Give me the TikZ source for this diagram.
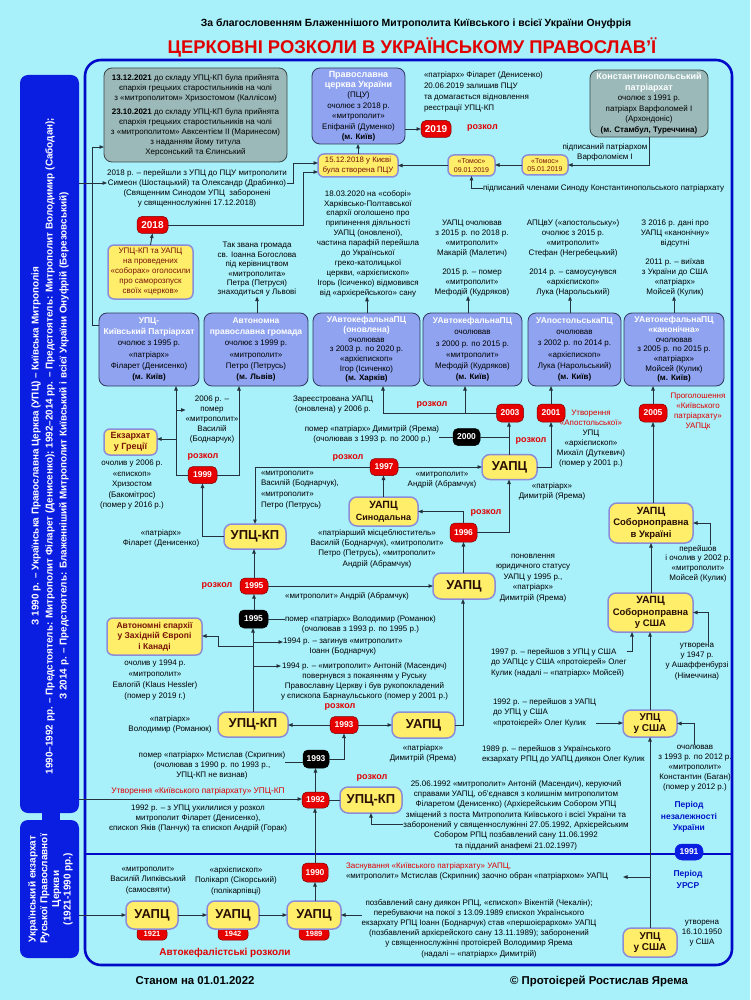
\documentclass[tikz,border=0pt]{standalone}
\usepackage{fontspec}
\setmainfont{Liberation Sans}
\usetikzlibrary{arrows.meta}
\definecolor{bgc}{RGB}{168,240,250}
\definecolor{frameb}{RGB}{0,10,200}
\definecolor{lblue}{RGB}{10,30,225}
\definecolor{peri}{RGB}{143,163,240}
\definecolor{perid}{RGB}{50,55,95}
\definecolor{greyf}{RGB}{155,185,185}
\definecolor{greyd}{RGB}{60,70,70}
\definecolor{yel}{RGB}{255,238,105}
\definecolor{yeld}{RGB}{140,140,215}
\definecolor{rbad}{RGB}{230,0,0}
\definecolor{rtxt}{RGB}{225,0,0}
\definecolor{dred}{RGB}{120,20,10}
\definecolor{ytx}{RGB}{40,15,5}
\definecolor{conn}{RGB}{35,50,60}
\definecolor{pblue}{RGB}{0,20,200}
\newcommand\myfs[2]{\fontsize{#1}{#2}\selectfont}
\newcommand\whb[1]{{\color{white}\bfseries\fontsize{8.5}{10}\selectfont #1}}
\newcommand\rdt[1]{{\color{rtxt}#1}}
\tikzset{
 every node/.style={inner sep=0pt, outer sep=0pt},
 txt/.style={align=center, font=\myfs{8}{10}},
 bbox/.style={draw=perid, fill=peri, line width=0.8pt, rounded corners=8pt, align=center, font=\myfs{8}{11.2}},
 gbox/.style={draw=greyd, fill=greyf, line width=0.8pt, rounded corners=8pt, align=center, font=\myfs{8}{10}},
 ybig/.style={draw=yeld, fill=yel, line width=1.5pt, rounded corners=8pt, align=center, text=ytx, font=\bfseries\myfs{13}{14}},
 ysmall/.style={draw=yeld, fill=yel, line width=1.5pt, rounded corners=6pt, align=center, text=dred, font=\bfseries\myfs{8.5}{10}},
 rbadge/.style={fill=rbad, draw=red!50!black, line width=0.5pt, rounded corners=5pt, text=white, font=\bfseries\myfs{8.5}{9}, minimum width=28pt, minimum height=17pt},
 kbadge/.style={rbadge, fill=black, draw=black},
 rozk/.style={text=rtxt, font=\bfseries\myfs{9}{10}},
 arr/.style={draw=conn, line width=0.9pt, -{Triangle[length=4.5pt,width=3.5pt]}},
 ln/.style={draw=conn, line width=0.9pt},
}
\begin{document}
\begin{tikzpicture}[x=1pt,y=-1pt]
\useasboundingbox (0,0) rectangle (750,1000);
\fill[bgc] (0,0) rectangle (750,1000);

% titles
\node[font=\bfseries\myfs{10.4}{12}] (h1) at (416,24) {За благословенням Блаженнішого Митрополита Київського і всієї України Онуфрія};
\node[font=\bfseries\myfs{18.4}{20}, text=rtxt] (h2) at (412,47) {ЦЕРКОВНІ РОЗКОЛИ В УКРАЇНСЬКОМУ ПРАВОСЛАВ’Ї};

% frame
\draw[frameb, line width=2.6pt, rounded corners=16pt] (85,60) rectangle (732,965);
\draw[frameb, line width=1.2pt] (86,854) -- (731,854);

% left boxes
\fill[lblue] (42,806) rectangle (60,824);
\node[fill=lblue, rounded corners=8pt, minimum width=59pt, minimum height=738pt] (LB1) at (49.5,444) {};
\node[rotate=90, text=white, align=center, font=\bfseries\myfs{9.9}{14}] (LB1t) at (50,446) {З 1990 р. – Українська Православна Церква (УПЦ) – Київська Митрополія\\1990–1992 рр. – Предстоятель: Митрополит Філарет (Денисенко); 1992–2014 рр. – Предстоятель: Митрополит Володимир (Сабодан);\\З 2014 р. – Предстоятель: Блаженніший Митрополит Київський і всієї України Онуфрій (Березовський)};
\node[fill=lblue, rounded corners=8pt, minimum width=59pt, minimum height=138pt] (LB2) at (49.5,889) {};
\node[rotate=90, text=white, align=center, font=\bfseries\myfs{10}{11.7}] (LB2t) at (50.5,889) {Український екзархат\\Руської Православної\\Церкви\\(1921-1990 рр.)};

% ---------- top row
\node[gbox, minimum width=183pt, minimum height=94pt] (G1) at (195.5,115) {\textbf{13.12.2021} до складу УПЦ-КП була прийнята\\єпархія грецьких старостильників на чолі\\з «митрополитом» Хризостомом (Каллісом)\\[4pt]\textbf{23.10.2021} до складу УПЦ-КП була прийнята\\єпархія грецьких старостильників на чолі\\з «митрополитом» Авксентієм II (Маринесом)\\з наданням йому титула\\Херсонський та Єлинський};
\node[bbox, minimum width=93pt, minimum height=76pt, font=\myfs{8}{10.4}] (PCU) at (358.5,106) {{\color{white}\bfseries\fontsize{9}{10}\selectfont Православна}\\{\color{white}\bfseries\fontsize{9}{10}\selectfont церква України}\\(ПЦУ)\\очолює з 2018 р.\\«митрополит»\\Епіфаній (Думенко)\\\textbf{(м. Київ)}};
\node[gbox, minimum width=118pt, minimum height=67pt, font=\myfs{8}{10.5}] (Konst) at (649,103.5) {{\color{white}\bfseries\fontsize{9}{10}\selectfont Константинопольський}\\{\color{white}\bfseries\fontsize{9}{10}\selectfont патріархат}\\очолює з 1991 р.\\патріарх Варфоломей I\\(Архондоніс)\\\textbf{(м. Стамбул, Туреччина)}};
\node[txt, align=left, anchor=west, font=\myfs{8}{11}] (tFil) at (424,91.5) {«патріарх» Філарет (Денисенко)\\20.06.2019 залишив ПЦУ\\та домагається відновлення\\реєстрації УПЦ-КП};
\node[rbadge, minimum width=30pt, minimum height=17pt, font=\bfseries\myfs{10}{10}] (b2019) at (436,129) {2019};
\node[rozk, anchor=west] (r2019) at (467,128) {розкол};
\node[txt] (tKonst) at (605,152) {підписаний патріархом\\Варфоломієм I};
\node[ysmall, minimum width=46pt, minimum height=20pt, font=\myfs{7}{8.5}] (T05) at (545,165) {«Томос»\\05.01.2019};
\node[ysmall, minimum width=47pt, minimum height=21pt, font=\myfs{7}{8.5}] (T09) at (471.5,165.5) {«Томос»\\09.01.2019};
\node[ysmall, minimum width=80pt, minimum height=23pt, font=\myfs{7.8}{9.5}] (P1512) at (358,165.5) {15.12.2018 у Києві\\була створена ПЦУ};
\node[txt, anchor=west] (tSynK) at (483,188) {підписаний членами Синоду Константинопольського патріархату};
\node[txt] (t2018) at (197,188) {2018 р. – перейшли з УПЦ до ПЦУ митрополити\\Симеон (Шостацький) та Олександр (Драбинко)\\(Священним Синодом УПЦ\ \ заборонені\\у священнослужінні 17.12.2018)};
\node[rbadge, minimum width=31pt, minimum height=17pt, font=\bfseries\myfs{10}{10}] (Y2018) at (152.5,225) {2018};
\node[ysmall, minimum width=85pt, minimum height=54pt, font=\myfs{8}{10}] (Ysob) at (150.5,272) {УПЦ-КП та УАПЦ\\на проведених\\«соборах» оголосили\\про саморозпуск\\своїх «церков»};

% texts above blue row
\node[txt, font=\myfs{8}{9.4}] (tLviv) at (257,269.5) {Так звана громада\\св. Іоанна Богослова\\під керівництвом\\«митрополита»\\Петра (Петруся)\\знаходиться у Львові};
\node[txt, font=\myfs{8}{9.9}] (tKh) at (368,243.5) {18.03.2020 на «соборі»\\Харківсько-Полтавської\\єпархії оголошено про\\припинення діяльності\\УАПЦ (оновленої),\\частина парафій перейшла\\до Української\\греко-католицької\\церкви, «архієпископ»\\Ігорь (Ісиченко) відмовився\\від «архієрейського» сану};
\node[txt] (tMak) at (472,258) {УАПЦ очолював\\з 2015 р. по 2018 р.\\«митрополит»\\Макарій (Малетич)\\[9pt]2015 р. – помер\\«митрополит»\\Мефодій (Кудряков)};
\node[txt] (tStef) at (573,258) {АПЦвУ («апостольську»)\\очолює з 2015 р.\\«митрополит»\\Стефан (Негребецький)\\[9pt]2014 р. – самоусунувся\\«архієпископ»\\Лука (Нарольський)};
\node[txt] (tKan) at (675,258) {З 2016 р. дані про\\УАПЦ «канонічну»\\відсутні\\[9pt]2011 р. – виїхав\\з України до США\\«патріарх»\\Мойсей (Кулик)};

% blue row
\node[bbox, minimum width=100pt, minimum height=73pt] (B1) at (149,349.5) {\whb{УПЦ-}\\\whb{Київський Патріархат}\\очолює з 1995 р.\\«патріарх»\\Філарет (Денисенко)\\\textbf{(м. Київ)}};
\node[bbox, minimum width=104pt, minimum height=73pt] (B2) at (256,349.5) {\whb{Автономна}\\\whb{православна громада}\\очолює з 1999 р.\\«митрополит»\\Петро (Петрусь)\\\textbf{(м. Львів)}};
\node[bbox, minimum width=107pt, minimum height=73pt, font=\myfs{8}{9.7}] (B3) at (366.5,349.5) {\whb{УАвтокефальнаПЦ}\\\whb{(оновлена)}\\очолював\\з 2003 р. по 2020 р.\\«архієпископ»\\Ігор (Ісиченко)\\\textbf{(м. Харків)}};
\node[bbox, minimum width=99pt, minimum height=73pt] (B4) at (472.5,349.5) {\whb{УАвтокефальнаПЦ}\\очолював\\з 2000 р. по 2015 р.\\«митрополит»\\Мефодій (Кудряков)\\\textbf{(м. Київ)}};
\node[bbox, minimum width=93pt, minimum height=73pt] (B5) at (574.5,349.5) {\whb{УАпостольськаПЦ}\\очолював\\з 2002 р. по 2014 р.\\«архієпископ»\\Лука (Нарольський)\\\textbf{(м. Київ)}};
\node[bbox, minimum width=100pt, minimum height=73pt, font=\myfs{8}{9.7}] (B6) at (674,349.5) {\whb{УАвтокефальнаПЦ}\\\whb{«канонічна»}\\очолював\\з 2005 р. по 2015 р.\\«патріарх»\\Мойсей (Кулик)\\\textbf{(м. Київ)}};

% ---------- middle
\node[rbadge, minimum width=27pt, minimum height=18pt] (b2003) at (510,413) {2003};
\node[rbadge, minimum width=28pt, minimum height=18pt] (b2001) at (551,413) {2001};
\node[rbadge, minimum width=28pt, minimum height=18pt] (b2005) at (653,413) {2005};
\node[rozk] (r2003) at (432,405) {розкол};
\node[txt] (tZar) at (333,405) {Зареєстрована УАПЦ\\(оновлена) у 2006 р.};
\node[kbadge, minimum width=27pt, minimum height=17pt] (b2000) at (466.5,437) {2000};
\node[txt] (t2000) at (372,434.5) {помер «патріарх» Димитрій (Ярема)\\(очолював з 1993 р. по 2000 р.)};
\node[txt] (tApost) at (591,439) {\rdt{Утворення}\\\rdt{«Апостольської»}\\УПЦ\\«архієпископ»\\Михаїл (Дуткевич)\\(помер у 2001 р.)};
\node[rozk] (r2001) at (531,441) {розкол};
\node[txt, text=rtxt] (tProg) at (698,411.5) {Проголошення\\«Київського\\патріархату»\\УАПЦк};
\node[ybig, minimum width=55pt, minimum height=25pt] (U2) at (509.5,467) {УАПЦ};
\node[rbadge] (b1997) at (384,467) {1997};
\node[rozk] (r1997) at (348,458) {розкол};
\node[rbadge, minimum width=29pt] (b1999) at (202.5,475) {1999};
\node[rozk] (r1999) at (203,457) {розкол};
\node[txt, font=\myfs{8}{9.8}] (t2006) at (212,419.5) {2006 р. –\\помер\\«митрополит»\\Василій\\(Боднарчук)};
\node[ysmall, minimum width=53pt, minimum height=26pt, font=\bfseries\myfs{9}{10.5}] (Ekz) at (130.5,442) {Екзархат\\у Греції};
\node[txt, font=\myfs{8}{10.5}] (tEkz) at (132,485) {очолив у 2006 р.\\«єпископ»\\Хризостом\\(Бакомітрос)\\(помер у 2016 р.)};
\node[ybig, minimum width=62pt, minimum height=25pt] (UK1) at (255,536.5) {УПЦ-КП};
\node[txt] (tFil2) at (161,538) {«патріарх»\\Філарет (Денисенко)};
\node[txt, align=left, anchor=west, font=\myfs{8}{10.7}] (tVas) at (261,490) {«митрополит»\\Василій (Боднарчук),\\«митрополит»\\Петро (Петрусь)};
\node[txt] (tAndr1) at (442,480) {«митрополит»\\Андрій (Абрамчук)};
\node[txt] (tDym1) at (552,491.5) {«патріарх»\\Димитрій (Ярема)};
\node[ybig, minimum width=69pt, minimum height=29pt, font=\bfseries\myfs{9}{12}] (Syn) at (383.5,511.5) {{\fontsize{10.5}{12}\selectfont УАПЦ}\\Синодальна};
\node[rbadge, minimum width=27pt, minimum height=19pt] (b1996) at (463.5,532.5) {1996};
\node[rozk] (r1996) at (486,513) {розкол};
\node[txt, font=\myfs{8}{10.3}] (tSyn2) at (377,548.5) {«патріарший місцеблюститель»\\Василій (Боднарчук), «митрополит»\\Петро (Петрусь), «митрополит»\\Андрій (Абрамчук)};
\node[ybig, minimum width=62pt, minimum height=26pt] (U3) at (464,586) {УАПЦ};
\node[txt, font=\myfs{8}{10.5}] (tPon) at (533,578) {поновлення\\юридичного статусу\\УАПЦ у 1995 р.,\\«патріарх»\\Димитрій (Ярема)};
\node[rbadge, minimum height=16pt] (b1995r) at (254,586) {1995};
\node[rozk] (r1995) at (217,586) {розкол};
\node[txt] (tAndr2) at (347,596) {«митрополит» Андрій (Абрамчук)};
\node[kbadge, minimum width=29pt, minimum height=18pt] (b1995b) at (253.5,619) {1995};
\node[txt, anchor=west] (tRom) at (285,624) {помер «патріарх» Володимир (Романюк)\\(очолював з 1993 р. по 1995 р.)};
\node[ysmall, minimum width=95pt, minimum height=37pt, font=\bfseries\myfs{8.5}{10.5}] (Avt) at (154.5,636.5) {Автономні єпархії\\у Західній Європі\\і Канаді};
\node[txt, anchor=west] (tIoann) at (283,647) {1994 р. – загинув «митрополит»\\Іоанн (Боднарчук)};
\node[txt, anchor=west] (tAnt) at (281,681) {1994 р. – «митрополит» Антоній (Масендич)\\повернувся з покаянням у Руську\\Православну Церкву і був рукопокладений\\у єпископа Барнаульського (помер у 2001 р.)};
\node[txt, font=\myfs{8}{10.7}] (tAvt) at (155,680) {очолив у 1994 р.\\«митрополит»\\Евлогій (Klaus Hessler)\\(помер у 2019 г.)};
\node[ybig, minimum width=70pt, minimum height=25pt] (UK2) at (253,724.5) {УПЦ-КП};
\node[txt] (tRom2) at (170,724.5) {«патріарх»\\Володимир (Романюк)};
\node[rbadge] (b1993r) at (344,725) {1993};
\node[rozk] (r1993) at (340,707) {розкол};
\node[ybig, minimum width=63pt, minimum height=26pt] (U4) at (423.5,725) {УАПЦ};
\node[txt] (tDym2) at (423,753) {«патріарх»\\Димитрій (Ярема)};
\node[kbadge, minimum width=26pt, minimum height=18pt] (b1993b) at (316,759) {1993};
\node[txt] (tMst) at (212,765) {помер «патріарх» Мстислав (Скрипник)\\(очолював з 1990 р. по 1993 р.,\\УПЦ-КП не визнав)};
\node[rbadge, minimum width=27pt, minimum height=16pt] (b1992) at (315.5,800) {1992};
\node[txt, text=rtxt, font=\myfs{8.3}{10}] (tUtv) at (198,791) {Утворення «Київського патріархату» УПЦ-КП};
\node[txt] (t1992) at (198,818.5) {1992 р. – з УПЦ ухилилися у розкол\\митрополит Філарет (Денисенко),\\єпископ Яків (Панчук) та єпископ Андрій (Горак)};
\node[ybig, minimum width=62pt, minimum height=26pt] (UK3) at (371,800) {УПЦ-КП};
\node[rozk] (r1992) at (372,778) {розкол};
\node[txt, font=\myfs{8}{10.3}] (tAnt2) at (516,815) {25.06.1992 «митрополит» Антоній (Масендич), керуючий\\справами УАПЦ, об’єднався з колишнім митрополитом\\Філаретом (Денисенко) (Архієрейським Собором УПЦ\\зміщений з поста Митрополита Київського і всієї України та\\заборонений у священнослужінні 27.05.1992, Архієрейським\\Собором РПЦ позбавлений сану 11.06.1992\\та підданий анафемі 21.02.1997)};

% right column
\node[ybig, minimum width=84pt, minimum height=40pt, font=\bfseries\myfs{9.5}{11.5}] (SobU) at (651,523) {{\fontsize{10.5}{11.5}\selectfont УАПЦ}\\Соборноправна\\в Україні};
\node[ybig, minimum width=85pt, minimum height=39pt, font=\bfseries\myfs{9.5}{11.5}] (SobS) at (650.5,612.5) {{\fontsize{10.5}{11.5}\selectfont УАПЦ}\\Соборноправна\\у США};
\node[txt, font=\myfs{8}{9.7}] (tPer) at (698,563.5) {перейшов\\і очолив у 2002 р.\\«митрополит»\\Мойсей (Кулик)};
\node[txt, font=\myfs{8}{10.3}] (tUtv47) at (697,661.5) {утворена\\у 1947 р.\\у Ашаффенбурзі\\(Німеччина)};
\node[txt, align=left, anchor=west, font=\myfs{8}{10.5}] (t1997) at (491,662.5) {1997 р. – перейшов з УПЦ у США\\до УАПЦс у США «протоієрей» Олег\\Кулик (надалі – «патріарх» Мойсей)};
\node[ybig, minimum width=54pt, minimum height=27pt, font=\bfseries\myfs{10}{11.5}] (US1) at (650,723.5) {УПЦ\\у США};
\node[txt, align=left, anchor=west, font=\myfs{8}{10.5}] (t1992b) at (493,712.5) {1992 р. – перейшов з УАПЦ\\до УПЦ у США\\«протоієрей» Олег Кулик};
\node[txt] (tKons) at (695,768) {очолював\\з 1993 р. по 2012 р.\\«митрополит»\\Константин (Баган)\\(помер у 2012 р.)};
\node[txt, align=left, anchor=west] (t1989) at (482,754) {1989 р. – перейшов з Українського\\екзархату РПЦ до УАПЦ диякон Олег Кулик};
\node[txt, text=pblue, font=\bfseries\myfs{8.5}{11.3}] (tPer1) at (689,817) {Період\\незалежності\\України};
\node[rbadge, fill=lblue, draw=lblue, rounded corners=7pt, minimum width=28pt, minimum height=16pt] (b1991) at (689,852) {1991};
\node[txt, text=pblue, font=\bfseries\myfs{8.5}{11.3}] (tPer2) at (688,879.5) {Період\\УРСР};

% bottom section
\node[txt, align=left, anchor=west] (tZasn) at (346,871.5) {\rdt{Заснування «Київського патріархату» УАПЦ,}\\«митрополит» Мстислав (Скрипник) заочно обран «патріархом» УАПЦ};
\node[rbadge, minimum width=26pt, minimum height=19pt] (b1990) at (315,872.5) {1990};
\node[rbadge, minimum width=30pt, minimum height=12pt, rounded corners=4pt, font=\bfseries\myfs{7.5}{8}] (tab1921) at (152,934) {\raisebox{-1.5pt}{1921}};
\node[rbadge, minimum width=30pt, minimum height=12pt, rounded corners=4pt, font=\bfseries\myfs{7.5}{8}] (tab1942) at (233,934) {\raisebox{-1.5pt}{1942}};
\node[rbadge, minimum width=30pt, minimum height=12pt, rounded corners=4pt, font=\bfseries\myfs{7.5}{8}] (tab1989) at (314,934) {\raisebox{-1.5pt}{1989}};
\node[ybig, minimum width=52pt, minimum height=28pt] (U1921) at (152,915) {УАПЦ};
\node[ybig, minimum width=52pt, minimum height=28pt] (U1942) at (233,915) {УАПЦ};
\node[ybig, minimum width=54pt, minimum height=28pt] (U1989) at (314,915) {УАПЦ};
\node[txt, font=\myfs{8}{10.5}] (tLip) at (148,880.5) {«митрополит»\\Василій Липківський\\(самосвяти)};
\node[txt, font=\myfs{8}{10.5}] (tPol) at (236,880.5) {«архієпископ»\\Полікарп (Сікорський)\\(полікарпівці)};
\node[txt, font=\myfs{8}{10.2}] (tPozb) at (479,928.5) {позбавлений сану диякон РПЦ, «єпископ» Вікентій (Чекалін);\\перебуваючи на покої з 13.09.1989 єпископ Українського\\екзархату РПЦ Іоанн (Боднарчук) став «першоієрархом» УАПЦ\\(позбавлений архієрейского сану 13.11.1989); заборонений\\у священнослужінні протоієрей Володимир Ярема\\(надалі – «патріарх» Димитрій)};
\node[ybig, minimum width=54pt, minimum height=29pt, font=\bfseries\myfs{10}{11.5}] (US2) at (650,942.5) {УПЦ\\у США};
\node[txt] (tUtv50) at (702,933.5) {утворена\\16.10.1950\\у США};
\node[rozk, font=\bfseries\myfs{10}{11}] (tAvRoz) at (225,953) {Автокефалістські розколи};

\node[font=\bfseries\myfs{11.4}{13}] (fL) at (195,981) {Станом на 01.01.2022};
\node[font=\bfseries\myfs{11.4}{13}] (fR) at (599,981) {© Протоієрей Ростислав Ярема};

% ---------- connectors
\coordinate (zasnTip) at (623,877);
\draw[arr] (B1.west |- 0,325) -- (92,325) -- (92,147) -- (G1.west |- 0,147);
\draw[arr] (LB1.east |- 0,183) -- (t2018.west |- 0,183);
\draw[arr] (t2018.east |- 0,183) -- (293,183) -- (293,163) -- (P1512.west |- 0,163);
\draw[arr] (Y2018.east) -- (303,225) -- (303,172) -- (P1512.west |- 0,172);
\draw[arr] (Ysob.north) -- (Y2018.south);
\draw[arr] (P1512.north) -- (PCU.south -| P1512.north);
\draw[arr] (PCU.east |- 0,129) -- (b2019.west);
\draw[arr] (T09.west) -- (P1512.east |- T09.west);
\draw[arr] (T05.west) -- (T09.east |- T05.west);
\draw[arr] (Konst.south) |- (T05.east);
\draw[arr] (tSynK.west) -| (T09.south);
\draw[arr] (B2.north -| 257,0) -- (tLviv.south -| 257,0);
\draw[arr] (B3.north -| 367,0) -- (tKh.south -| 367,0);
\draw[arr] (B4.north -| 468,0) -- (tMak.south -| 468,0);
\draw[arr] (B5.north -| 570,0) -- (tStef.south -| 570,0);
\draw[arr] (B6.north -| 674,0) -- (tKan.south -| 674,0);

\draw[arr] (b1999.west) -- (176,475) -- (B1.south -| 176,0);
\draw[arr] (b1999.east) -- (239,475) -- (B2.south -| 239,0);
\draw[arr] (176,410) -- (t2006.west |- 0,410);
\draw[arr] (176,439) -- (Ekz.east |- 0,439);
\draw[arr] (UK1.west) -| (b1999.south);
\draw[arr] (b1997.west) -| (UK1.north);
\draw[arr] (b1997.east) -- (U2.west);
\draw[arr] (Syn.north) -- (b1997.south -| Syn.north);
\draw[arr] (U2.north -| 509,0) -- (b2003.south -| 509,0);
\draw[ln] (t2000.east |- b2000.west) -- (b2000.west);
\draw[ln] (b2000.east) -- (509,437);
\draw[arr] (b2003.west) -- (383,413) -- (B3.south -| 383,0);
\draw[arr] (465,413) -- (B4.south -| 465,0);
\draw[arr] (U2.east) -| (b2001.south);
\draw[arr] (b2001.north) -- (B5.south -| b2001.north);
\draw[arr] (b2005.north) -- (B6.south -| b2005.north);
\draw[arr] (SobU.north -| b2005.south) -- (b2005.south);
\draw[arr] (b1996.east) -| (U2.south -| 509,0);
\draw[arr] (b1996.north) |- (Syn.east);
\draw[arr] (U3.north -| b1996.south) -- (b1996.south);
\draw[arr] (b1995r.east) -- (U3.west);
\draw[arr] (b1995r.north) -- (UK1.south -| b1995r.north);
\draw[arr] (b1995b.north -| b1995r.south) -- (b1995r.south);
\draw[ln] (b1995b.east) -- (tRom.west |- 0,619);
\draw[arr] (UK2.north) -- (b1995b.south -| UK2.north);
\draw[arr] (253,646) -- (218,646) -- (218,636) -- (Avt.east |- 0,636);
\draw[arr] (253,642) -- (tIoann.west |- 0,642);
\draw[arr] (253,666) -- (tAnt.west |- 0,666);
\draw[arr] (b1993r.west) -- (UK2.east |- b1993r.west);
\draw[arr] (b1993r.east) -- (U4.west |- b1993r.east);
\draw[arr] (U4.east) -| (U3.south -| 463,0);
\draw[ln] (tMst.east |- 0,762) -- (b1993b.west |- 0,762);
\draw[arr] (b1993b.east) -| (b1993r.south);
\draw[arr] (b1992.north) -- (b1993b.south -| b1992.north);
\draw[arr] (LB1.east |- 0,799) -- (b1992.west |- 0,799);
\draw[ln] (b1992.east) -- (UK3.west);
\draw[arr] (tAnt2.west |- 0,824) -| (UK3.south);
\draw[arr] (b1990.north) -- (b1992.south -| b1990.north);
\draw[arr] (U1989.north -| b1990.south) -- (b1990.south);
\draw[arr] (LB2.east |- 0,915) -- (U1921.west);
\draw[arr] (U1921.east) -- (U1942.west);
\draw[arr] (U1942.east) -- (U1989.west);
\draw[arr] (tPozb.west |- 0,915) -- (U1989.east);

\draw[arr] (US2.north) -- (US1.south);
\draw[arr] (US2.north |- zasnTip) -- (zasnTip);
\draw[arr] (US1.north) -- (SobS.south -| US1.north);
\draw[arr] (t1997.east |- 0,651) -- (632,651) -- (SobS.south -| 632,0);
\draw[arr] (SobS.north -| SobU.south) -- (SobU.south);
\draw[arr] (tUtv47.north -| 708,0) |- (SobS.east);
\draw[arr] (tPer.north -| 710,0) |- (SobU.east);
\draw[arr] (t1992b.east |- 0,723) -- (US1.west |- 0,723);
\draw[arr] (tKons.north -| 694,0) |- (US1.east);
\end{tikzpicture}
\end{document}
